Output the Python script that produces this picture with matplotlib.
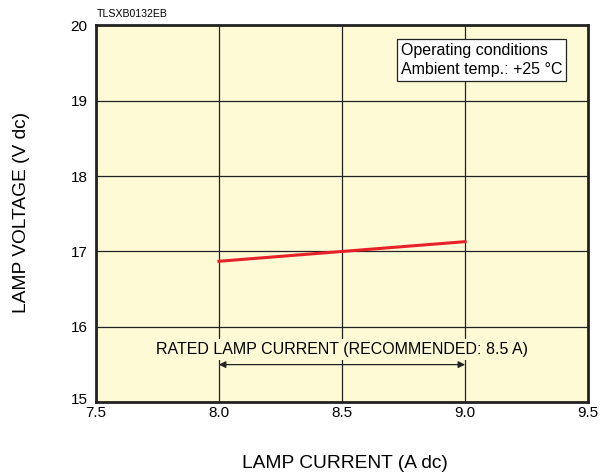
import matplotlib
matplotlib.use("Agg")
import matplotlib.pyplot as plt
import matplotlib.transforms as mtransforms

plt.rcParams['font.family'] = ['Liberation Sans', 'DejaVu Sans']

current = [8.0, 9.0]
voltage = [16.87, 17.13]
x_ticks = [7.5, 8.0, 8.5, 9.0, 9.5]
x_tick_labels = ["7.5", "8.0", "8.5", "9.0", "9.5"]
y_ticks = [15, 16, 17, 18, 19, 20]
rated_range = [8.0, 9.0]
rated_y = 15.5

fig = plt.figure(figsize=(6.14, 4.75), dpi=100)
ax = fig.add_axes([0.156, 0.153, 0.802, 0.794])
ax.set_facecolor('#FFFAD6')
ax.set_xlim(7.5, 9.5)
ax.set_ylim(15, 20)
ax.set_xticks(x_ticks)
ax.set_xticklabels(x_tick_labels)
ax.set_yticks(y_ticks)
ax.tick_params(length=0, labelsize=11)
ax.tick_params(axis='y', pad=6)
ax.tick_params(axis='x', pad=3)
ax.grid(True, color='#222222', linewidth=0.9)
ax.set_axisbelow(True)
for s in ax.spines.values():
    s.set_linewidth(2)
    s.set_color('#222222')

# lift the lowest y label slightly, as in the reference
lbl15 = ax.get_yticklabels()[0]
lbl15.set_transform(lbl15.get_transform() +
                    mtransforms.ScaledTranslation(0, 4/100, fig.dpi_scale_trans))

ax.plot(current, voltage, color='#E8202A', linewidth=2.2, zorder=3)

ax.annotate('', xy=(rated_range[0], rated_y), xytext=(rated_range[1], rated_y),
            arrowprops=dict(arrowstyle='<|-|>', color='#222222', lw=0.9,
                            mutation_scale=10, shrinkA=0, shrinkB=0), zorder=4)
ax.text(8.5, rated_y + 0.1, 'RATED LAMP CURRENT (RECOMMENDED: 8.5 A)',
        ha='center', va='bottom', fontsize=11.5,
        bbox=dict(facecolor='#FFFAD6', edgecolor='none', pad=2), zorder=4)

ax.text(0.619, 0.907, 'Operating conditions\nAmbient temp.: +25 °C',
        transform=ax.transAxes, fontsize=11.5, va='center', ha='left',
        linespacing=1.3, zorder=5,
        bbox=dict(facecolor='white', edgecolor='#222222', linewidth=0.9,
                  boxstyle='square,pad=0.25'))

fig.text(97/614, 1 - 14/475, 'TLSXB0132EB', fontsize=7.6, ha='left', va='center')
fig.text(22/614, 1 - 212/475, 'LAMP VOLTAGE (V dc)', rotation=90,
         fontsize=13.8, ha='center', va='center')
fig.text(345/614, 1 - 463/475, 'LAMP CURRENT (A dc)', fontsize=13.8,
         ha='center', va='center')

fig.savefig('out.png', dpi=100)
